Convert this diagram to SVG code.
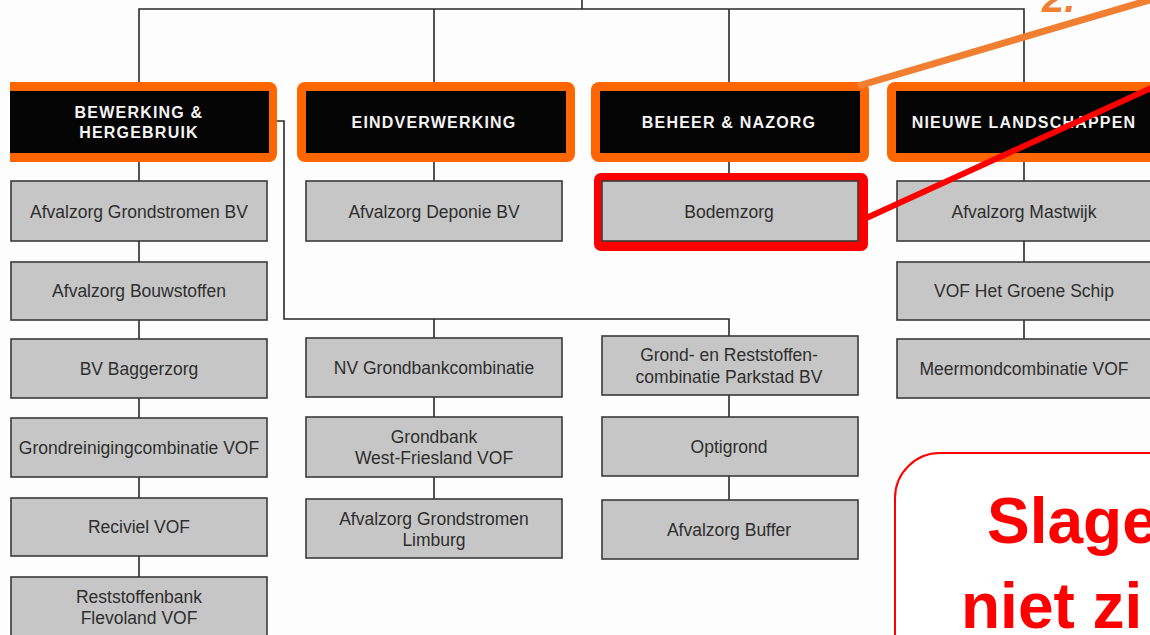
<svg xmlns="http://www.w3.org/2000/svg" width="1150" height="635" viewBox="0 0 1150 635">
<defs>
<style>
.hdr-o{fill:#ff6600}
.hdr-b{fill:#050505}
.hdr-t{fill:#f4f4f4;font-family:"Liberation Sans",Arial,sans-serif;font-weight:bold;font-size:16px;letter-spacing:1.2px;text-anchor:middle}
.box{fill:#c6c6c6;stroke:#3a3a3a;stroke-width:1.6}
.box-t{fill:#2e2e2e;font-family:"Liberation Sans",Arial,sans-serif;font-size:17.5px;text-anchor:middle}
.con{fill:none;stroke:#2a2a2a;stroke-width:1.6}
</style>
</defs>
<rect width="1150" height="635" fill="#fdfdfd"/>

<g id="connectors">
<path class="con" d="M582 0 V9" stroke-width="2.5"/>
<path class="con" d="M139 82 V9 H1024 V82"/>
<path class="con" d="M434 9 V82 M729 9 V82"/>
<path class="con" d="M139 162 V181 M139 241 V262 M139 320 V339 M139 398 V418 M139 477 V498 M139 556 V577"/>
<path class="con" d="M434 162 V181"/>
<path class="con" d="M729 162 V173"/>
<path class="con" d="M1024 162 V181 M1024 241 V262 M1024 320 V339"/>
<path class="con" d="M268 121 H284 V319 H729 V336 M434 319 V338"/>
<path class="con" d="M434 397 V417 M434 477 V499"/>
<path class="con" d="M729 395 V417 M729 476 V500"/>
</g>

<g id="hdr-bewerking">
<path class="hdr-o" d="M10 82 H269 A8 8 0 0 1 277 90 V154 A8 8 0 0 1 269 162 H10 Z"/>
<rect class="hdr-b" x="10" y="91" width="259" height="62"/>
<text class="hdr-t" x="139" y="118">BEWERKING &amp;</text>
<text class="hdr-t" x="139" y="138">HERGEBRUIK</text>
</g>
<g id="hdr-eindverwerking">
<rect class="hdr-o" x="297" y="82" width="278" height="80" rx="8"/>
<rect class="hdr-b" x="306" y="91" width="260" height="62"/>
<text class="hdr-t" x="434" y="128">EINDVERWERKING</text>
</g>
<g id="hdr-beheer">
<rect class="hdr-o" x="591" y="82" width="278" height="80" rx="8"/>
<rect class="hdr-b" x="600" y="91" width="260" height="62"/>
<text class="hdr-t" x="729" y="128">BEHEER &amp; NAZORG</text>
</g>
<g id="hdr-nieuwe">
<rect class="hdr-o" x="887" y="82" width="290" height="80" rx="8"/>
<rect class="hdr-b" x="896" y="91" width="270" height="62"/>
<text class="hdr-t" x="1024" y="128">NIEUWE LANDSCHAPPEN</text>
</g>

<g id="n-agbv"><rect class="box" x="11" y="181" width="256" height="60"/><text class="box-t" x="139" y="218">Afvalzorg Grondstromen BV</text></g>
<g id="n-abouw"><rect class="box" x="11" y="262" width="256" height="58"/><text class="box-t" x="139" y="297">Afvalzorg Bouwstoffen</text></g>
<g id="n-bagger"><rect class="box" x="11" y="339" width="256" height="59"/><text class="box-t" x="139" y="375">BV Baggerzorg</text></g>
<g id="n-grondrein"><rect class="box" x="11" y="418" width="256" height="59"/><text class="box-t" x="139" y="454">Grondreinigingcombinatie VOF</text></g>
<g id="n-reciviel"><rect class="box" x="11" y="498" width="256" height="58"/><text class="box-t" x="139" y="533">Reciviel VOF</text></g>
<g id="n-reststof"><rect class="box" x="11" y="577" width="256" height="62"/><text class="box-t" x="139" y="603">Reststoffenbank</text><text class="box-t" x="139" y="624">Flevoland VOF</text></g>

<g id="n-deponie"><rect class="box" x="306" y="181" width="256" height="60"/><text class="box-t" x="434" y="218">Afvalzorg Deponie BV</text></g>
<g id="n-nvgrond"><rect class="box" x="306" y="338" width="256" height="59"/><text class="box-t" x="434" y="374">NV Grondbankcombinatie</text></g>
<g id="n-westfries"><rect class="box" x="306" y="417" width="256" height="60"/><text class="box-t" x="434" y="443">Grondbank</text><text class="box-t" x="434" y="464">West-Friesland VOF</text></g>
<g id="n-limburg"><rect class="box" x="306" y="499" width="256" height="59"/><text class="box-t" x="434" y="525">Afvalzorg Grondstromen</text><text class="box-t" x="434" y="546">Limburg</text></g>

<g id="n-bodemzorg">
<rect x="594" y="173" width="274" height="78" rx="7" fill="#ff0000"/>
<rect class="box" x="602" y="181" width="256" height="60"/><text class="box-t" x="729" y="218">Bodemzorg</text></g>
<g id="n-parkstad"><rect class="box" x="602" y="336" width="256" height="59"/><text class="box-t" x="729" y="361">Grond- en Reststoffen-</text><text class="box-t" x="729" y="383">combinatie Parkstad BV</text></g>
<g id="n-optigrond"><rect class="box" x="602" y="417" width="256" height="59"/><text class="box-t" x="729" y="453">Optigrond</text></g>
<g id="n-buffer"><rect class="box" x="602" y="500" width="256" height="59"/><text class="box-t" x="729" y="536">Afvalzorg Buffer</text></g>

<g id="n-mastwijk"><rect class="box" x="897" y="181" width="270" height="60"/><text class="box-t" x="1024" y="218">Afvalzorg Mastwijk</text></g>
<g id="n-groene"><rect class="box" x="897" y="262" width="270" height="58"/><text class="box-t" x="1024" y="297">VOF Het Groene Schip</text></g>
<g id="n-meermond"><rect class="box" x="897" y="339" width="270" height="59"/><text class="box-t" x="1024" y="375">Meermondcombinatie VOF</text></g>

<g id="annotations">
<line x1="858" y1="86" x2="1160" y2="-3" stroke="#f07f32" stroke-width="7"/>
<text x="1042" y="12" fill="#f07f32" font-family="Liberation Sans,Arial,sans-serif" font-style="italic" font-weight="bold" font-size="40">2.</text>
<line x1="862" y1="220" x2="1160" y2="84" stroke="#ff0000" stroke-width="6"/>
<rect x="895" y="453" width="320" height="260" rx="45" fill="#ffffff" stroke="#ff0000" stroke-width="2"/>
<text x="987" y="543" fill="#ff0000" font-family="Liberation Sans,Arial,sans-serif" font-weight="bold" font-size="64">Slage</text>
<text x="961" y="628" fill="#ff0000" font-family="Liberation Sans,Arial,sans-serif" font-weight="bold" font-size="64">niet zi</text>
</g>
</svg>
